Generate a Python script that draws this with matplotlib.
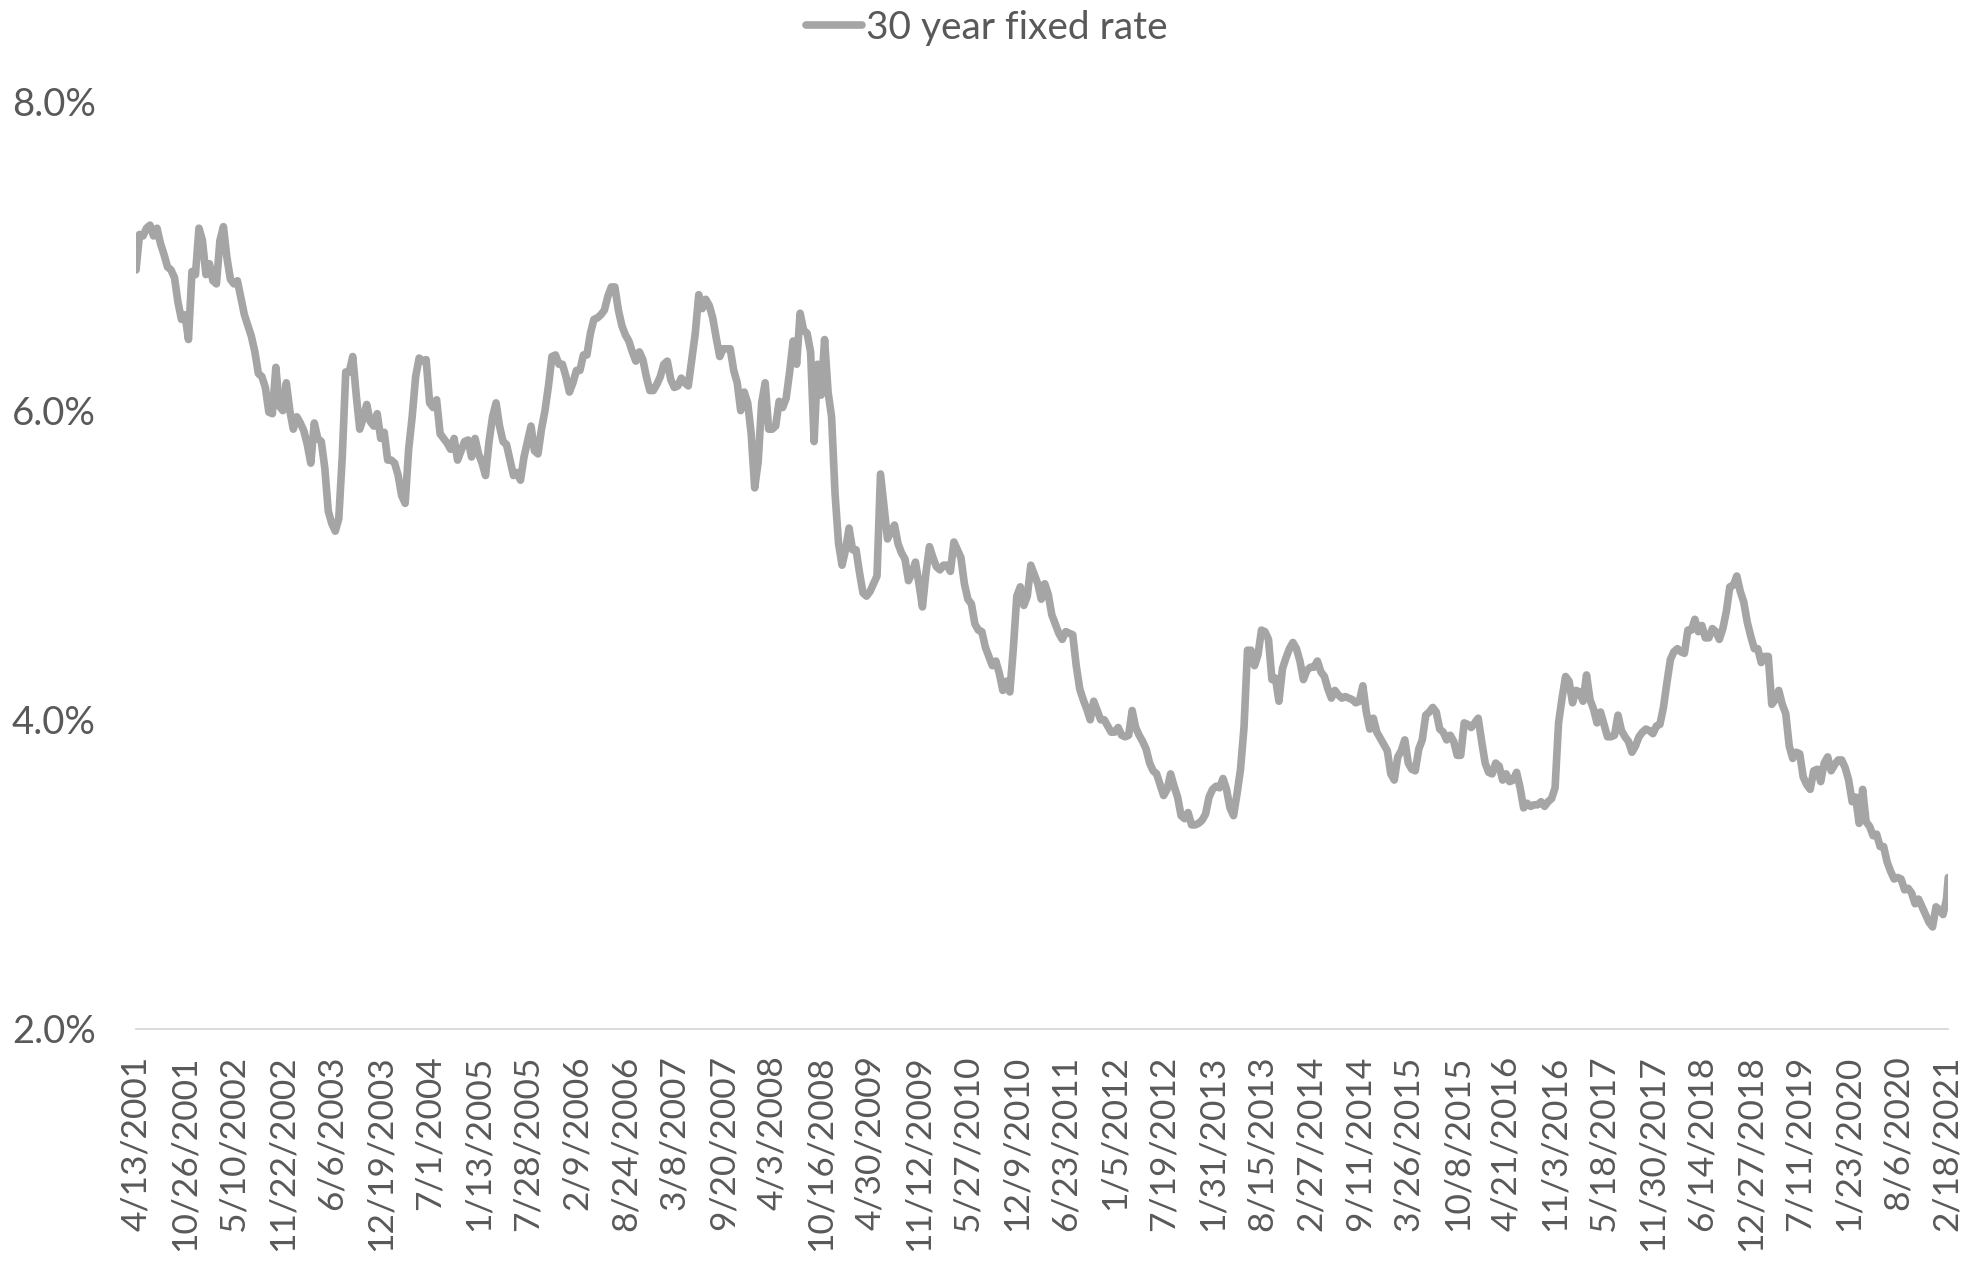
import numpy as np
import matplotlib.pyplot as plt
from matplotlib.ticker import FuncFormatter

# Weekly 30 year fixed mortgage rate (%), sampled every second week
# starting 4/13/2001; one row per 28-week label interval.
rate_pct = [
    6.91, 7.14, 7.13, 7.18, 7.20, 7.13, 7.18, 7.08, 7.01, 6.93, 6.91, 6.86, 6.70, 6.59,
    6.62, 6.46, 6.90, 6.88, 7.18, 7.10, 6.88, 6.95, 6.84, 6.82, 7.10, 7.19, 6.99, 6.85,
    6.82, 6.84, 6.73, 6.62, 6.55, 6.48, 6.38, 6.24, 6.22, 6.15, 5.99, 5.98, 6.28, 6.03,
    6.00, 6.18, 6.00, 5.88, 5.96, 5.92, 5.87, 5.78, 5.66, 5.92, 5.82, 5.80, 5.63, 5.35,
    5.27, 5.22, 5.30, 5.70, 6.25, 6.25, 6.35, 6.10, 5.88, 5.95, 6.04, 5.93, 5.90, 5.98,
    5.82, 5.86, 5.68, 5.68, 5.66, 5.58, 5.45, 5.40, 5.75, 5.96, 6.22, 6.34, 6.32, 6.33,
    6.05, 6.02, 6.07, 5.85, 5.82, 5.79, 5.75, 5.82, 5.68, 5.74, 5.80, 5.81, 5.70, 5.82,
    5.72, 5.66, 5.58, 5.80, 5.96, 6.05, 5.90, 5.80, 5.78, 5.68, 5.58, 5.60, 5.55, 5.70,
    5.80, 5.90, 5.74, 5.72, 5.88, 6.00, 6.16, 6.35, 6.36, 6.30, 6.30, 6.22, 6.12, 6.18,
    6.26, 6.26, 6.36, 6.36, 6.50, 6.59, 6.60, 6.62, 6.65, 6.74, 6.80, 6.80, 6.65, 6.55,
    6.49, 6.45, 6.38, 6.32, 6.38, 6.33, 6.22, 6.13, 6.13, 6.17, 6.22, 6.30, 6.32, 6.20,
    6.15, 6.16, 6.21, 6.18, 6.16, 6.33, 6.50, 6.75, 6.66, 6.72, 6.68, 6.60, 6.47, 6.35,
    6.40, 6.40, 6.40, 6.26, 6.18, 6.00, 6.12, 6.05, 5.85, 5.50, 5.67, 6.05, 6.18, 5.88,
    5.88, 5.90, 6.06, 6.02, 6.08, 6.25, 6.45, 6.30, 6.63, 6.52, 6.50, 6.38, 5.80, 6.30,
    6.10, 6.46, 6.12, 5.96, 5.46, 5.14, 5.00, 5.10, 5.24, 5.10, 5.10, 4.95, 4.82, 4.80,
    4.83, 4.88, 4.93, 5.59, 5.38, 5.17, 5.22, 5.26, 5.14, 5.08, 5.04, 4.90, 4.95, 5.02,
    4.88, 4.73, 4.95, 5.12, 5.05, 4.99, 4.97, 5.00, 5.00, 4.96, 5.15, 5.10, 5.05, 4.88,
    4.78, 4.75, 4.62, 4.58, 4.57, 4.47, 4.41, 4.35, 4.38, 4.30, 4.19, 4.25, 4.18, 4.46,
    4.80, 4.86, 4.74, 4.80, 5.00, 4.94, 4.88, 4.78, 4.88, 4.81, 4.68, 4.62, 4.56, 4.52,
    4.57, 4.56, 4.55, 4.35, 4.20, 4.13, 4.07, 4.00, 4.12, 4.06, 4.00, 4.00, 3.96, 3.92,
    3.92, 3.95, 3.90, 3.89, 3.90, 4.06, 3.95, 3.90, 3.86, 3.81, 3.72, 3.67, 3.65, 3.58,
    3.51, 3.55, 3.65, 3.57, 3.50, 3.38, 3.36, 3.40, 3.32, 3.32, 3.33, 3.35, 3.39, 3.50,
    3.55, 3.57, 3.56, 3.62, 3.55, 3.43, 3.38, 3.52, 3.68, 3.95, 4.45, 4.45, 4.35, 4.42,
    4.58, 4.57, 4.52, 4.26, 4.27, 4.12, 4.33, 4.40, 4.46, 4.50, 4.46, 4.38, 4.26, 4.32,
    4.34, 4.34, 4.38, 4.31, 4.28, 4.20, 4.14, 4.19, 4.16, 4.14, 4.15, 4.14, 4.13, 4.11,
    4.12, 4.22, 4.05, 3.94, 4.01, 3.92, 3.88, 3.84, 3.80, 3.65, 3.61, 3.76, 3.80, 3.87,
    3.72, 3.68, 3.67, 3.81, 3.87, 4.03, 4.05, 4.08, 4.05, 3.94, 3.92, 3.87, 3.90, 3.86,
    3.77, 3.77, 3.98, 3.97, 3.95, 3.98, 4.01, 3.86, 3.72, 3.66, 3.65, 3.72, 3.70, 3.61,
    3.65, 3.60, 3.61, 3.66, 3.56, 3.43, 3.46, 3.44, 3.45, 3.45, 3.47, 3.44, 3.47, 3.49,
    3.56, 3.98, 4.14, 4.28, 4.25, 4.11, 4.19, 4.18, 4.12, 4.29, 4.13, 4.07, 3.98, 4.05,
    3.97, 3.89, 3.89, 3.90, 4.03, 3.93, 3.89, 3.86, 3.79, 3.83, 3.89, 3.92, 3.94, 3.93,
    3.91, 3.96, 3.97, 4.08, 4.24, 4.39, 4.44, 4.46, 4.44, 4.43, 4.58, 4.58, 4.65, 4.57,
    4.61, 4.53, 4.53, 4.59, 4.57, 4.52, 4.59, 4.70, 4.86, 4.87, 4.93, 4.83, 4.76, 4.63,
    4.54, 4.46, 4.46, 4.37, 4.41, 4.41, 4.10, 4.13, 4.19, 4.10, 4.04, 3.83, 3.75, 3.79,
    3.78, 3.63, 3.58, 3.55, 3.67, 3.68, 3.60, 3.72, 3.76, 3.67, 3.71, 3.74, 3.74, 3.69,
    3.61, 3.47, 3.50, 3.33, 3.55, 3.34, 3.31, 3.25, 3.26, 3.18, 3.18, 3.08, 3.02, 2.97,
    2.98, 2.97, 2.90, 2.91, 2.88, 2.81, 2.84, 2.79, 2.74, 2.69, 2.66, 2.79, 2.77, 2.74,
    2.84, 2.98,
]
n_weeks = 1038  # 4/13/2001 .. 2/25/2021

tick_labels = [
    "4/13/2001", "10/26/2001", "5/10/2002", "11/22/2002", "6/6/2003", "12/19/2003",
    "7/1/2004", "1/13/2005", "7/28/2005", "2/9/2006", "8/24/2006", "3/8/2007",
    "9/20/2007", "4/3/2008", "10/16/2008", "4/30/2009", "11/12/2009", "5/27/2010",
    "12/9/2010", "6/23/2011", "1/5/2012", "7/19/2012", "1/31/2013", "8/15/2013",
    "2/27/2014", "9/11/2014", "3/26/2015", "10/8/2015", "4/21/2016", "11/3/2016",
    "5/18/2017", "11/30/2017", "6/14/2018", "12/27/2018", "7/11/2019", "1/23/2020",
    "8/6/2020", "2/18/2021",
]
label_step = 28  # weeks between category labels

# week index of each sample: every second week, plus the final week
week_idx = np.r_[np.arange(0, n_weeks - 1, 2), n_weeks - 1]

plt.rcParams["font.family"] = ["Lato", "DejaVu Sans"]
text_color = "#595959"

fig = plt.figure(figsize=(19.86, 12.65), dpi=100)
ax = fig.add_axes([0.0685, 0.1866, 0.9125, 0.7332])

ax.plot(week_idx, rate_pct, color="#a5a5a5", linewidth=5.5,
        solid_joinstyle="round", solid_capstyle="round",
        label="30 year fixed rate")

ax.set_xlim(0, n_weeks - 1)
ax.set_ylim(2.0, 8.0)
ax.set_yticks([2, 4, 6, 8])
ax.yaxis.set_major_formatter(FuncFormatter(lambda v, _: f"{v:.1f}%"))
ax.set_xticks(np.arange(0, n_weeks, label_step)[: len(tick_labels)])
ax.set_xticklabels(tick_labels, rotation=90, va="top", ha="center")

ax.tick_params(axis="both", length=0, labelsize=25.5, colors=text_color)
ax.tick_params(axis="x", pad=19)
ax.tick_params(axis="y", pad=29, labelsize=27.5)

for side in ("top", "right", "left"):
    ax.spines[side].set_visible(False)
ax.spines["bottom"].set_color("#d9d9d9")
ax.spines["bottom"].set_linewidth(1.3)

fig.legend(loc="center", bbox_to_anchor=(0.497, 1 - 28 / 1265),
           frameon=False, fontsize=28, labelcolor=text_color,
           handlelength=1.45, handletextpad=0.1)

fig.savefig("out.png", dpi=100)
